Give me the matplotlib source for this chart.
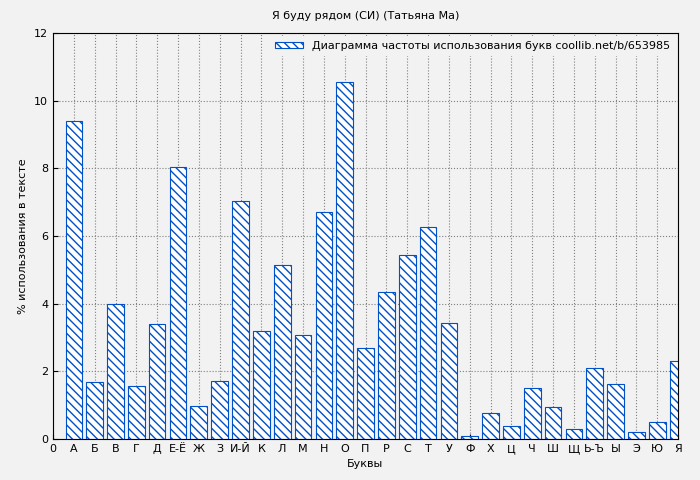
import matplotlib
matplotlib.use("Agg")
import matplotlib.pyplot as plt

letters = ["А","Б","В","Г","Д","Е-Ё","Ж","З","И-Й","К","Л","М","Н","О","П","Р","С","Т","У","Ф","Х","Ц","Ч","Ш","Щ","Ь-Ъ","Ы","Э","Ю","Я"]
values = [9.40,1.68,3.99,1.57,3.40,8.04,0.98,1.71,7.03,3.19,5.14,3.07,6.71,10.55,2.69,4.35,5.44,6.27,3.43,0.09,0.77,0.38,1.51,0.95,0.30,2.10,1.63,0.21,0.50,2.31]
ticklabels = ["0"] + letters

fig = plt.figure(figsize=(7, 4.8), dpi=100, facecolor="#f2f2f2")
ax = fig.add_axes([53/700, 41/480, 625/700, 406/480], facecolor="#f2f2f2")
x = list(range(1, len(values)+1))
plt.rcParams['hatch.color'] = '#0050c8'
ax.bar(x, values, width=0.8, facecolor="white", edgecolor="#0050c8", hatch="\\\\\\\\", linewidth=0.8,
       label="Диаграмма частоты использования букв coollib.net/b/653985")
ax.set_xlim(0, 30)
ax.set_ylim(0, 12)
ax.set_xticks(range(0, 31))
ax.set_xticklabels(ticklabels, fontsize=8)
ax.set_yticks(range(0, 13, 2))
ax.tick_params(labelsize=8, direction="in")
ax.grid(True, linestyle=":", color="#808080", linewidth=0.8)
ax.set_axisbelow(True)
ax.set_xlabel("Буквы", fontsize=8)
ax.set_ylabel("% использования в тексте", fontsize=8)
ax.set_title("Я буду рядом (СИ) (Татьяна Ма)", fontsize=8, pad=10)
ax.legend(loc="upper right", fontsize=8, frameon=True, facecolor="#f2f2f2", edgecolor="#f2f2f2",
          framealpha=1, handlelength=2.5, handleheight=0.5, borderaxespad=0.3)
fig.savefig("out.png", dpi=100, facecolor=fig.get_facecolor())
